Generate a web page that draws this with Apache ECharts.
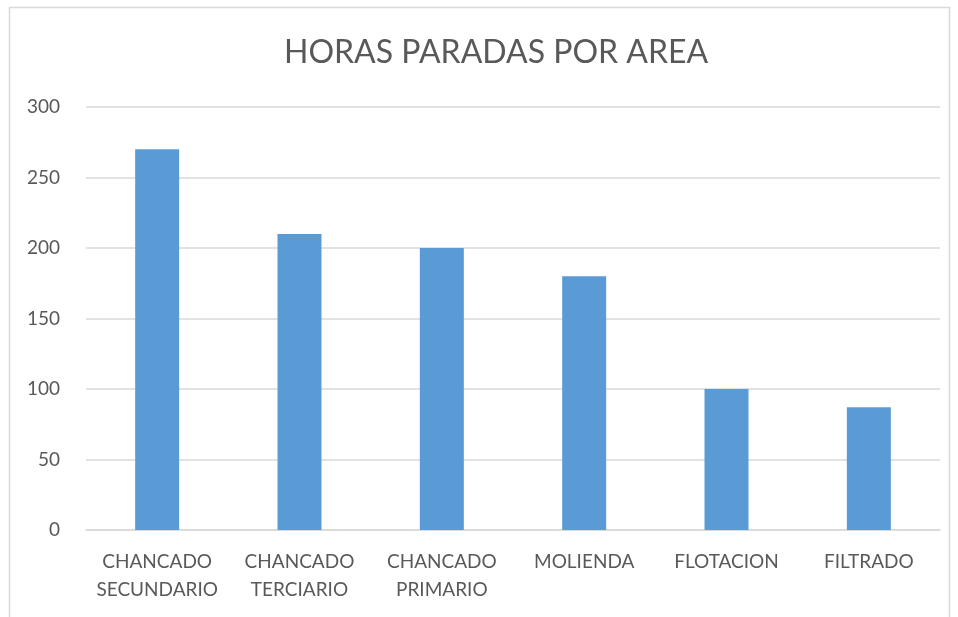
<!DOCTYPE html>
<html>
<head>
<meta charset="utf-8">
<script src="https://cdn.jsdelivr.net/npm/echarts@6/dist/echarts.min.js"></script>
<style>
  html, body { margin: 0; padding: 0; background: #fff; }
  #chart { width: 958px; height: 617px; }
</style>
</head>
<body>
<div id="chart"></div>
<script>
// datos
const categorias = ["CHANCADO\nSECUNDARIO", "CHANCADO\nTERCIARIO", "CHANCADO\nPRIMARIO", "MOLIENDA", "FLOTACION", "FILTRADO"];
const horas = [270, 210, 200, 180, 100, 87];
const yTicks = [0, 50, 100, 150, 200, 250, 300];

const chart = echarts.init(document.getElementById("chart"));
const fuente = "Lato, 'Open Sans', sans-serif";

chart.setOption({
  animation: false,
  textStyle: { fontFamily: fuente },
  title: {
    text: "HORAS PARADAS POR AREA",
    left: 279,
    top: 32,
    textStyle: { color: "#595959", fontSize: 32, fontWeight: "normal", fontFamily: fuente },
  },
  graphic: [
    {
      type: "rect",
      shape: { x: 9.5, y: 7.5, width: 940, height: 620 },
      style: { fill: "none", stroke: "#d9d9d9", lineWidth: 1.5 },
      silent: true,
    },
  ],
  grid: { left: 86, right: 18, top: 107, bottom: 87 },
  xAxis: {
    type: "category",
    data: categorias,
    axisLine: { show: true, lineStyle: { color: "#d9d9d9", width: 1.5 } },
    axisTick: { show: false },
    axisLabel: { interval: 0, color: "#595959", fontSize: 19, lineHeight: 28, margin: 18 },
  },
  yAxis: {
    type: "value",
    min: yTicks[0],
    max: yTicks[yTicks.length - 1],
    interval: 50,
    axisLine: { show: false },
    axisTick: { show: false },
    axisLabel: { color: "#595959", fontSize: 19, margin: 26 },
    splitLine: { lineStyle: { color: "#d9d9d9", width: 1.5 } },
  },
  series: [
    {
      type: "bar",
      data: horas,
      barWidth: 44,
      itemStyle: { color: "#5b9bd5" },
    },
  ],
});
</script>
</body>
</html>
